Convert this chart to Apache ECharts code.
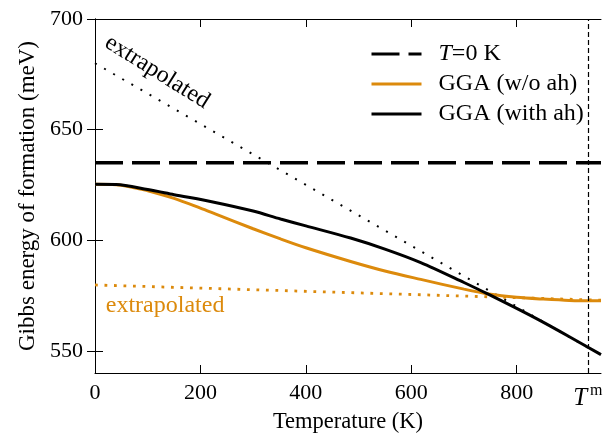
<!DOCTYPE html>
<html>
<head>
<meta charset="utf-8">
<script src="https://cdn.jsdelivr.net/npm/echarts@6/dist/echarts.min.js"></script>
<style>
  html, body { margin: 0; padding: 0; background: #fff; }
  #chart { width: 603px; height: 433px; }
</style>
</head>
<body>
<div id="chart"></div>
<script>
const tempWithAh = [0, 40, 100, 150, 228, 300, 352, 400, 485, 550, 618, 700, 747, 800, 850, 900, 960];
const gWithAh = [625.3, 625.2, 622.9, 620.6, 617.1, 613.2, 609.6, 606.5, 601, 596, 589.9, 580.9, 575.5, 569.2, 563, 556.4, 548.3];

const tempNoAh = [0, 40, 100, 150, 200, 228, 300, 352, 400, 485, 550, 618, 700, 747, 800, 850, 900, 960];
const gNoAh = [625.3, 625.1, 622.4, 618.9, 614.5, 611.9, 605.2, 600.6, 596.6, 590.4, 586.1, 582.3, 577.9, 575.7, 574.2, 573.4, 572.8, 572.6];

const tempT0 = [0, 960];
const gT0 = [635, 635];

// dotted extrapolations (straight lines)
const tempExtrapAh = [0, 940];
const gExtrapAh = [680, 550.8];
const tempExtrapNoAh = [0, 960];
const gExtrapNoAh = [579.8, 572.9];

const tMelt = 935;

const xTicks = [0, 200, 400, 600, 800];
const yTicks = [550, 600, 650, 700];

const zip = (xs, ys) => xs.map((x, i) => [x, ys[i]]);

const FONT = 'Liberation Serif';
const ORANGE = '#dc8a0c';

const chart = echarts.init(document.getElementById('chart'));

const tickStyle = { inside: true, length: 8, lineStyle: { color: '#000', width: 1 } };

const option = {
  animation: false,
  grid: { left: 95, right: 2, top: 19, bottom: 60, containLabel: false, outerBoundsMode: 'none' },
  legend: {
    data: ['T=0 K', 'GGA (w/o ah)', 'GGA (with ah)'],
    orient: 'vertical',
    left: 370,
    top: 42,
    padding: 0,
    itemWidth: 50,
    itemHeight: 14,
    itemGap: 6,
    itemStyle: { opacity: 0 },
    lineStyle: { width: 3 },
    formatter: (name) => name === 'T=0 K' ? '{i|T}=0 K' : name,
    textStyle: {
      fontFamily: FONT,
      fontSize: 24,
      color: '#000',
      lineHeight: 24,
      padding: [0, 0, 0, 12],
      rich: { i: { fontFamily: FONT, fontSize: 24, fontStyle: 'italic', color: '#000' } }
    }
  },
  xAxis: [
    {
      type: 'value', min: 0, max: 960,
      name: 'Temperature (K)', nameLocation: 'middle', nameGap: 38,
      nameTextStyle: { fontFamily: FONT, fontSize: 22.5, color: '#000' },
      axisLine: { lineStyle: { color: '#000', width: 1 } },
      axisTick: Object.assign({ customValues: xTicks }, tickStyle),
      axisLabel: { fontFamily: FONT, fontSize: 22, color: '#000', margin: 9, customValues: xTicks },
      splitLine: { show: false }
    },
    {
      type: 'value', min: 0, max: 960, position: 'top',
      axisLine: { show: true, lineStyle: { color: '#000', width: 1 } },
      axisTick: Object.assign({ customValues: xTicks }, tickStyle),
      axisLabel: { show: false },
      splitLine: { show: false }
    }
  ],
  yAxis: [
    {
      type: 'value', min: 540, max: 700,
      name: 'Gibbs energy of formation (meV)', nameLocation: 'middle', nameGap: 56,
      nameTextStyle: { fontFamily: FONT, fontSize: 23, color: '#000' },
      axisLine: { show: true, lineStyle: { color: '#000', width: 1 } },
      axisTick: Object.assign({ show: true, customValues: yTicks }, tickStyle),
      axisLabel: { fontFamily: FONT, fontSize: 22, color: '#000', margin: 12, customValues: yTicks },
      splitLine: { show: false }
    },
    {
      type: 'value', min: 540, max: 700, position: 'right',
      axisLine: { show: true, lineStyle: { color: '#000', width: 1 } },
      axisTick: Object.assign({ show: true, customValues: yTicks }, tickStyle),
      axisLabel: { show: false },
      splitLine: { show: false }
    }
  ],
  series: [
    {
      name: 'extrap (with ah)',
      type: 'line',
      data: zip(tempExtrapAh, gExtrapAh),
      symbol: 'none',
      lineStyle: { color: '#000', width: 2, type: [2, 8.5] },
      markPoint: {
        symbol: 'circle', symbolSize: 0,
        label: {
          show: true, formatter: 'extrapolated', rotate: -32,
          fontFamily: FONT, fontSize: 24, color: '#000'
        },
        data: [{ coord: [118, 676] }]
      },
      z: 2
    },
    {
      name: 'extrap (w/o ah)',
      type: 'line',
      data: zip(tempExtrapNoAh, gExtrapNoAh),
      symbol: 'none',
      lineStyle: { color: ORANGE, width: 2.8, type: [2.8, 6.7] },
      markPoint: {
        symbol: 'circle', symbolSize: 0,
        label: {
          show: true, formatter: 'extrapolated',
          fontFamily: FONT, fontSize: 24, color: ORANGE
        },
        data: [{ coord: [133, 570.6] }]
      },
      z: 2
    },
    {
      name: 'GGA (w/o ah)',
      type: 'line',
      data: zip(tempNoAh, gNoAh),
      smooth: 0.3,
      symbol: 'none',
      lineStyle: { color: ORANGE, width: 3 },
      itemStyle: { color: ORANGE },
      z: 3
    },
    {
      name: 'GGA (with ah)',
      type: 'line',
      data: zip(tempWithAh, gWithAh),
      smooth: 0.3,
      symbol: 'none',
      lineStyle: { color: '#000', width: 3 },
      itemStyle: { color: '#000' },
      z: 4
    },
    {
      name: 'T=0 K',
      type: 'line',
      data: zip(tempT0, gT0),
      symbol: 'none',
      lineStyle: { color: '#000', width: 3.5, type: [28, 9] },
      itemStyle: { color: '#000' },
      markLine: {
        silent: true,
        symbol: 'none',
        lineStyle: { color: '#000', width: 1.2, type: [5, 3] },
        label: {
          show: true, position: 'start', distance: 10,
          formatter: '{t|T}{m|m}',
          rich: {
            t: { fontFamily: FONT, fontSize: 25, fontStyle: 'italic', color: '#000', lineHeight: 30 },
            m: { fontFamily: FONT, fontSize: 16, color: '#000', verticalAlign: 'top', padding: [0, 0, 12, 3] }
          }
        },
        data: [{ xAxis: tMelt }]
      },
      z: 5
    }
  ]
};

chart.setOption(option);
</script>
</body>
</html>
